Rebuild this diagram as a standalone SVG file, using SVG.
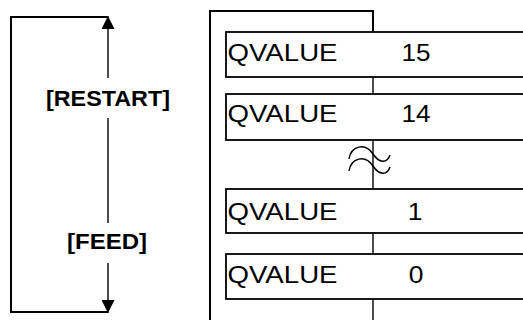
<svg xmlns="http://www.w3.org/2000/svg" width="523" height="320" viewBox="0 0 523 320">
<style>
.frame{fill:none;stroke:#000;stroke-width:2}
.box{fill:#fff;stroke:#000;stroke-width:1.8}
.conn{fill:none;stroke:#000;stroke-width:1.4}
.wave{fill:none;stroke:#000;stroke-width:1.5}
.lbl{font-family:"Liberation Sans",Arial,sans-serif;font-weight:bold;font-size:22.5px;fill:#000;text-anchor:middle}
.q{font-family:"Liberation Sans",Arial,sans-serif;font-size:23.5px;fill:#000}
.n{font-family:"Liberation Sans",Arial,sans-serif;font-size:23.5px;fill:#000;text-anchor:middle}
</style>
<defs>
<marker id="ah" viewBox="0 0 13 13" refX="13" refY="6.5" markerWidth="13" markerHeight="13" markerUnits="userSpaceOnUse" orient="auto">
<path d="M0,0 L13,6.5 L0,13 Z" fill="#000"/>
</marker>
</defs>
<g id="loop">
<path class="frame" d="M108,17 L11,17 L11,312 L108,312"/>
</g>
<g id="connectors">
<path class="conn" d="M108,78 L108,16" marker-end="url(#ah)"/>
<path class="conn" d="M108,118 L108,223"/>
<path class="conn" d="M108,263 L108,313" marker-end="url(#ah)"/>
<path class="frame" d="M210,320 L210,11 L373,11 L373,32"/>
<path class="conn" d="M373,77 L373,94"/>
<path class="conn" d="M373,140 L373,189"/>
<path class="conn" d="M373,233 L373,254"/>
<path class="conn" d="M373,299 L373,320"/>
<path class="wave" d="M349,159 C351,146 365,142 373,154 C379,163 387,164 390,155"/>
<path class="wave" d="M349,171 C351,158 365,154 373,166 C379,175 387,176 390,167"/>
</g>
<g id="restart"><text class="lbl" x="108" y="106" textLength="124" lengthAdjust="spacingAndGlyphs">[RESTART]</text></g>
<g id="feed"><text class="lbl" x="107" y="249" textLength="80" lengthAdjust="spacingAndGlyphs">[FEED]</text></g>
<g id="q15">
<rect class="box" x="226" y="32" width="310" height="45"/>
<text class="q" x="227.5" y="61" textLength="110" lengthAdjust="spacingAndGlyphs">QVALUE</text>
<text class="n" x="416" y="61" textLength="29" lengthAdjust="spacingAndGlyphs">15</text>
</g>
<g id="q14">
<rect class="box" x="226" y="94" width="310" height="46"/>
<text class="q" x="227.5" y="122" textLength="110" lengthAdjust="spacingAndGlyphs">QVALUE</text>
<text class="n" x="416" y="122" textLength="29" lengthAdjust="spacingAndGlyphs">14</text>
</g>
<g id="q1">
<rect class="box" x="226" y="189" width="310" height="44"/>
<text class="q" x="227.5" y="219.5" textLength="110" lengthAdjust="spacingAndGlyphs">QVALUE</text>
<text class="n" x="415" y="219.5" textLength="14.7" lengthAdjust="spacingAndGlyphs">1</text>
</g>
<g id="q0">
<rect class="box" x="226" y="254" width="310" height="45"/>
<text class="q" x="227.5" y="283" textLength="110" lengthAdjust="spacingAndGlyphs">QVALUE</text>
<text class="n" x="416" y="283" textLength="14.7" lengthAdjust="spacingAndGlyphs">0</text>
</g>
</svg>
